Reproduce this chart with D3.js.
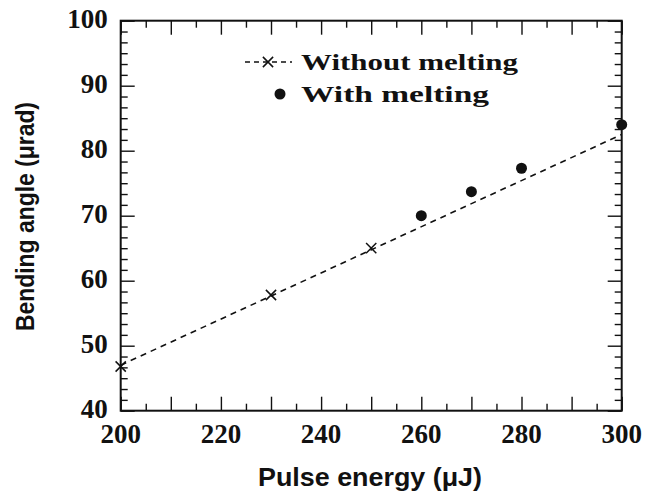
<!DOCTYPE html>
<html>
<head>
<meta charset="utf-8">
<script src="https://cdn.jsdelivr.net/npm/d3@7"></script>
<style>
  html, body { margin: 0; padding: 0; background: #fff; }
  svg { display: block; }
</style>
</head>
<body>
<svg id="chart" width="653" height="491"></svg>
<script>
// Bending angle vs pulse energy
const energyNoMelt = [200, 230, 250];
const angleNoMelt = [46.8, 57.8, 65.0];
const energyMelt = [260, 270, 280, 300];
const angleMelt = [70.0, 73.7, 77.3, 84.0];
// dashed trend line endpoints (energy, angle)
const trendEnergy = [200, 300];
const trendAngle = [47.0, 82.5];

const xTickLabels = [200, 220, 240, 260, 280, 300];
const yTickLabels = [40, 50, 60, 70, 80, 90, 100];
const legendLabels = ["Without melting", "With melting"];
const xTitle = "Pulse energy (\u03BCJ)";
const yTitle = "Bending angle (\u03BCrad)";

const svg = d3.select("#chart");
const plotL = 120.7, plotT = 20.7, plotR = 621.7, plotB = 410.7;

const x = d3.scaleLinear().domain([200, 300]).range([plotL, plotR]);
const y = d3.scaleLinear().domain([40, 100]).range([plotB, plotT]);

const ink = "#111";
const serif = "Liberation Serif";
const sans = "Liberation Sans";

// minor / major tick values
const xMajor = d3.range(200, 301, 10);
const xMinor = d3.range(205, 300, 10);
const yMajor = d3.range(40, 101, 10);
const yMinor = [];
yMajor.slice(0, -1).forEach(v => { for (let k = 1; k < 6; k++) yMinor.push(v + k * 10 / 6); });

const majLen = 14, minLen = 7;

function tickAxis(axisGen, transform) {
  const g = svg.append("g").attr("transform", transform).call(axisGen);
  g.select(".domain").remove();
  g.selectAll(".tick line").attr("stroke", ink).attr("stroke-width", 1.4);
  g.selectAll(".tick text").remove();
  return g;
}

// bottom & top ticks (pointing inward)
tickAxis(d3.axisTop(x).tickValues(xMajor).tickSize(majLen), `translate(0,${plotB})`);
tickAxis(d3.axisTop(x).tickValues(xMinor).tickSize(minLen), `translate(0,${plotB})`);
tickAxis(d3.axisBottom(x).tickValues(xMajor).tickSize(majLen), `translate(0,${plotT})`);
tickAxis(d3.axisBottom(x).tickValues(xMinor).tickSize(minLen), `translate(0,${plotT})`);
// left & right ticks (pointing inward)
tickAxis(d3.axisRight(y).tickValues(yMajor).tickSize(majLen), `translate(${plotL},0)`);
tickAxis(d3.axisRight(y).tickValues(yMinor).tickSize(minLen), `translate(${plotL},0)`);
tickAxis(d3.axisLeft(y).tickValues(yMajor).tickSize(majLen), `translate(${plotR},0)`);
tickAxis(d3.axisLeft(y).tickValues(yMinor).tickSize(minLen), `translate(${plotR},0)`);

// frame
svg.append("rect")
  .attr("x", plotL).attr("y", plotT)
  .attr("width", plotR - plotL).attr("height", plotB - plotT)
  .attr("fill", "none").attr("stroke", ink).attr("stroke-width", 2);

// tick labels
svg.append("g").selectAll("text").data(xTickLabels).join("text")
  .attr("x", d => x(d)).attr("y", 443)
  .attr("text-anchor", "middle")
  .style("font-family", serif).style("font-size", "27px").style("font-weight", "bold")
  .attr("fill", ink)
  .text(d => d);

svg.append("g").selectAll("text").data(yTickLabels).join("text")
  .attr("x", plotL - 13).attr("y", d => y(d) + 7.5)
  .attr("text-anchor", "end")
  .style("font-family", serif).style("font-size", "27px").style("font-weight", "bold")
  .attr("fill", ink)
  .text(d => d);

// axis titles
svg.append("text")
  .attr("x", 258).attr("y", 486)
  .style("font-family", sans).style("font-size", "26px").style("font-weight", "bold")
  .attr("textLength", 224).attr("lengthAdjust", "spacingAndGlyphs")
  .attr("fill", ink)
  .text(xTitle);

svg.append("text")
  .attr("transform", `translate(34,331) rotate(-90)`)
  .style("font-family", sans).style("font-size", "26px").style("font-weight", "bold")
  .attr("textLength", 229).attr("lengthAdjust", "spacingAndGlyphs")
  .attr("fill", ink)
  .text(yTitle);

// dashed trend line
const line = d3.line().x(d => x(d[0])).y(d => y(d[1]));
svg.append("path")
  .datum(d3.zip(trendEnergy, trendAngle))
  .attr("d", line)
  .attr("fill", "none").attr("stroke", ink)
  .attr("stroke-width", 1.6).attr("stroke-dasharray", "6,5");

// cross markers
const cross = d3.symbol().type(d3.symbolX).size(70);
svg.append("g").selectAll("path").data(d3.zip(energyNoMelt, angleNoMelt)).join("path")
  .attr("d", cross)
  .attr("transform", d => `translate(${x(d[0])},${y(d[1])})`)
  .attr("fill", "none").attr("stroke", ink).attr("stroke-width", 1.5);

// filled dots
svg.append("g").selectAll("circle").data(d3.zip(energyMelt, angleMelt)).join("circle")
  .attr("cx", d => x(d[0])).attr("cy", d => y(d[1]))
  .attr("r", 5.5).attr("fill", ink);

// legend
const lg = svg.append("g");
lg.append("line")
  .attr("x1", 245).attr("x2", 292).attr("y1", 62).attr("y2", 62)
  .attr("stroke", ink).attr("stroke-width", 1.6).attr("stroke-dasharray", "5,4");
lg.append("path").attr("d", cross)
  .attr("transform", "translate(268,62)")
  .attr("fill", "none").attr("stroke", ink).attr("stroke-width", 1.5);
lg.append("circle").attr("cx", 280).attr("cy", 94).attr("r", 5.5).attr("fill", ink);
lg.selectAll("text").data(legendLabels).join("text")
  .attr("x", 301).attr("y", (d, i) => 70 + i * 32)
  .style("font-family", serif).style("font-size", "23px").style("font-weight", "bold")
  .attr("fill", ink)
  .attr("textLength", (d, i) => i === 0 ? 217 : 188)
  .attr("lengthAdjust", "spacingAndGlyphs")
  .text(d => d);
</script>
</body>
</html>
